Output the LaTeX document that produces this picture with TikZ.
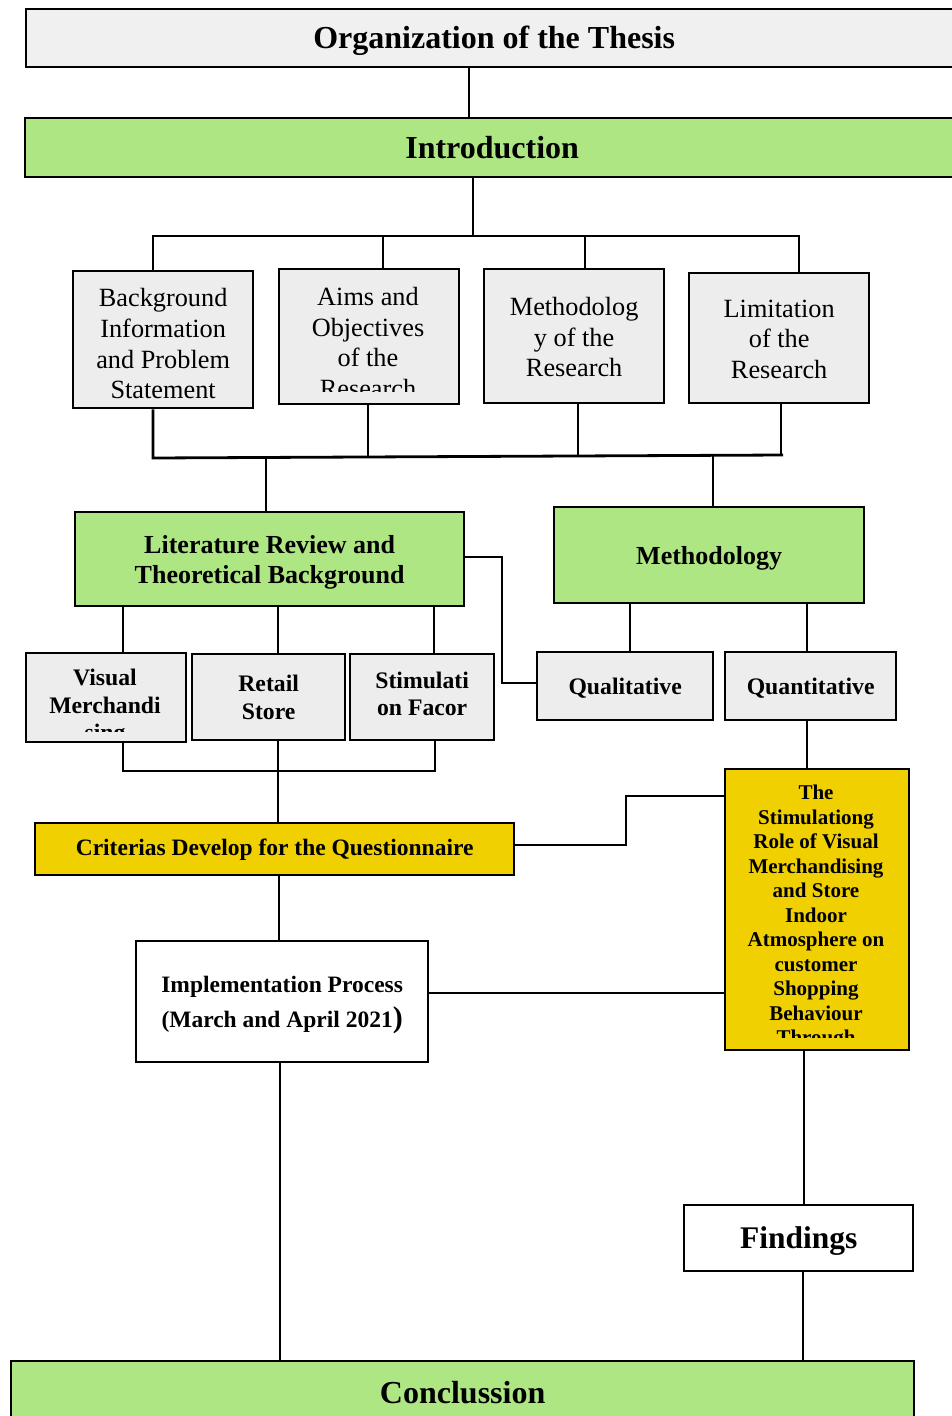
\documentclass[tikz,border=0pt]{standalone}
\usepackage{fontspec}
\setmainfont{Liberation Serif}
\definecolor{lgray}{HTML}{EDEDED}
\definecolor{tgray}{HTML}{F0F0F0}
\definecolor{lgreen}{HTML}{AEE684}
\definecolor{lyellow}{HTML}{F0D000}
\newcommand\tb[4]{\node[tx2,#3] (#1t) at ([yshift=#2]#1.center) {#4};}
\begin{document}
\begin{tikzpicture}[x=1pt,y=-1pt,
 bx/.style={draw=black, line width=2.3pt, inner sep=0pt, anchor=north west},
 grayb/.style={bx, fill=lgray},
 greenb/.style={bx, fill=lgreen},
 yellowb/.style={bx, fill=lyellow},
 whiteb/.style={bx, fill=white},
 conn/.style={draw=black, line width=2.8pt},
 fbig/.style={font=\fontsize{32}{36}\selectfont\bfseries},
 freg/.style={font=\fontsize{26.3}{30.7}\selectfont},
 fmid/.style={font=\fontsize{26}{30}\selectfont\bfseries},
 fsm/.style={font=\fontsize{23.7}{27.5}\selectfont\bfseries},
 fyel/.style={font=\fontsize{21}{24.5}\selectfont\bfseries},
 tx/.style={inner sep=0pt, align=center, anchor=north, text=black},
 tx2/.style={inner sep=0pt, align=center, anchor=center, text=black}
]
\useasboundingbox (0,0) rectangle (952,1416);
\clip (0,0) rectangle (952,1416);
\fill[white] (0,0) rectangle (952,1416);

% top boxes
\node[bx, fill=tgray, minimum width=936pt, minimum height=58pt] (org) at (25,8) {};
\tb{org}{-3pt}{fbig}{Organization of the Thesis}
\node[greenb, minimum width=934pt, minimum height=59pt] (intro) at (24,117) {};
\tb{intro}{0pt}{fbig}{Introduction}

% second row
\node[grayb, minimum width=180pt, minimum height=137pt] (b1) at (72,270) {};
\tb{b1}{-4pt}{freg}{Background\\Information\\and Problem\\Statement}
\node[grayb, minimum width=180pt, minimum height=135pt] (b2) at (278,268) {};
\begin{scope}
\clip (279,269) rectangle (457,391);
\node[tx, freg] (b2t) at (368,287) {Aims and\\Objectives\\of the\\Research};
\end{scope}
\node[grayb, minimum width=180pt, minimum height=134pt] (b3) at (483,268) {};
\tb{b3}{-1pt}{freg}{Methodolog\\y of the\\Research}
\node[grayb, minimum width=180pt, minimum height=130pt] (b4) at (688,272) {};
\tb{b4}{-1pt}{freg}{Limitation\\of the\\Research}

% third row
\node[greenb, minimum width=389pt, minimum height=94pt] (lit) at (74,511) {};
\tb{lit}{-3.5pt}{fmid}{Literature Review and\\Theoretical Background}
\node[greenb, minimum width=310pt, minimum height=96pt] (meth) at (553,506) {};
\tb{meth}{-3pt}{fmid}{Methodology}

% fourth row
\node[grayb, minimum width=160pt, minimum height=89pt] (vis) at (25,652) {};
\begin{scope}
\clip (26,653) rectangle (184,731);
\node[tx, fsm] (vist) at (105,669) {Visual\\Merchandi\\sing};
\end{scope}
\node[grayb, minimum width=153pt, minimum height=86pt] (ret) at (191,653) {};
\tb{ret}{0pt}{fsm}{Retail\\Store}
\node[grayb, minimum width=144pt, minimum height=86pt] (stim) at (349,653) {};
\tb{stim}{3.5pt}{fsm}{Stimulati\\on Facor}
\node[grayb, minimum width=176pt, minimum height=68pt] (qual) at (536,651) {};
\tb{qual}{-2pt}{fsm}{Qualitative}
\node[grayb, minimum width=171pt, minimum height=68pt] (quant) at (724,651) {};
\tb{quant}{-2pt}{fsm}{Quantitative}

% yellow
\node[yellowb, minimum width=184pt, minimum height=281pt] (yel) at (724,768) {};
\begin{scope}
\clip (725,769) rectangle (907,1037);
\node[tx, fyel] (yelt) at (816,785) {The\\Stimulationg\\Role of Visual\\Merchandising\\and Store\\Indoor\\Atmosphere on\\customer\\Shopping\\Behaviour\\Through};
\end{scope}
\node[yellowb, minimum width=479pt, minimum height=52pt] (crit) at (34,822) {};
\tb{crit}{-1pt}{font=\fontsize{23.5}{27}\selectfont\bfseries}{Criterias Develop for the Questionnaire}

\node[whiteb, minimum width=292pt, minimum height=121pt] (impl) at (135,940) {};
\tb{impl}{-3pt}{font=\fontsize{23.5}{35}\selectfont\bfseries}{Implementation Process\\(March and April 2021{\fontsize{30}{30}\selectfont)}}
\node[whiteb, minimum width=229pt, minimum height=66pt] (find) at (683,1204) {};
\tb{find}{-3pt}{font=\fontsize{31.5}{36}\selectfont\bfseries}{Findings}
\node[greenb, minimum width=903pt, minimum height=64pt] (conc) at (10,1360) {};
\tb{conc}{1pt}{fbig}{Conclussion}

% junction coordinates
\coordinate (t1) at (153,236);
\coordinate (t4) at (799,236);
\coordinate (u1) at (153,458);
\coordinate (u4) at (783,455);
\coordinate (lr1) at (502,557);
\coordinate (lr2) at (502,683);
\coordinate (v1) at (123,771);
\coordinate (v3) at (435,771);
\coordinate (c1) at (626,845);
\coordinate (c2) at (626,796);

% connectors
\draw[conn] (org.south -| 469,0) -- (intro.north -| 469,0);
\draw[conn] (intro.south -| 473,0) -- (473,236);
\draw[conn] (b1.north -| t1) -- (t1) -- (t4) -- (b4.north -| t4);
\draw[conn] (383,236) -- (b2.north -| 383,0);
\draw[conn] (585,236) -- (b3.north -| 585,0);
\draw[conn] (b1.south -| u1) -- (u1) -- (u4);
\draw[conn] (b4.south -| 781,0) -- (781,455);
\draw[conn] (b2.south -| 368,0) -- (368,457);
\draw[conn] (b3.south -| 578,0) -- (578,456);
\draw[conn] (266,457.5) -- (lit.north -| 266,0);
\draw[conn] (713,455.3) -- (meth.north -| 713,0);
\draw[conn] (lit.east |- lr1) -- (lr1) -- (lr2) -- (qual.west |- lr2);
\draw[conn] (lit.south -| 123,0) -- (vis.north -| 123,0);
\draw[conn] (lit.south -| 278,0) -- (ret.north -| 278,0);
\draw[conn] (lit.south -| 434,0) -- (stim.north -| 434,0);
\draw[conn] (vis.south -| v1) -- (v1) -- (v3) -- (stim.south -| v3);
\draw[conn] (ret.south -| 278,0) -- (crit.north -| 278,0);
\draw[conn] (meth.south -| 630,0) -- (qual.north -| 630,0);
\draw[conn] (meth.south -| 807,0) -- (quant.north -| 807,0);
\draw[conn] (quant.south -| 807,0) -- (yel.north -| 807,0);
\draw[conn] (crit.east |- c1) -- (c1) -- (c2) -- (yel.west |- c2);
\draw[conn] (crit.south -| 279,0) -- (impl.north -| 279,0);
\draw[conn] (impl.east |- 0,993) -- (yel.west |- 0,993);
\draw[conn] (impl.south -| 280,0) -- (conc.north -| 280,0);
\draw[conn] (yel.south -| 804,0) -- (find.north -| 804,0);
\draw[conn] (find.south -| 803,0) -- (conc.north -| 803,0);
\end{tikzpicture}
\end{document}
